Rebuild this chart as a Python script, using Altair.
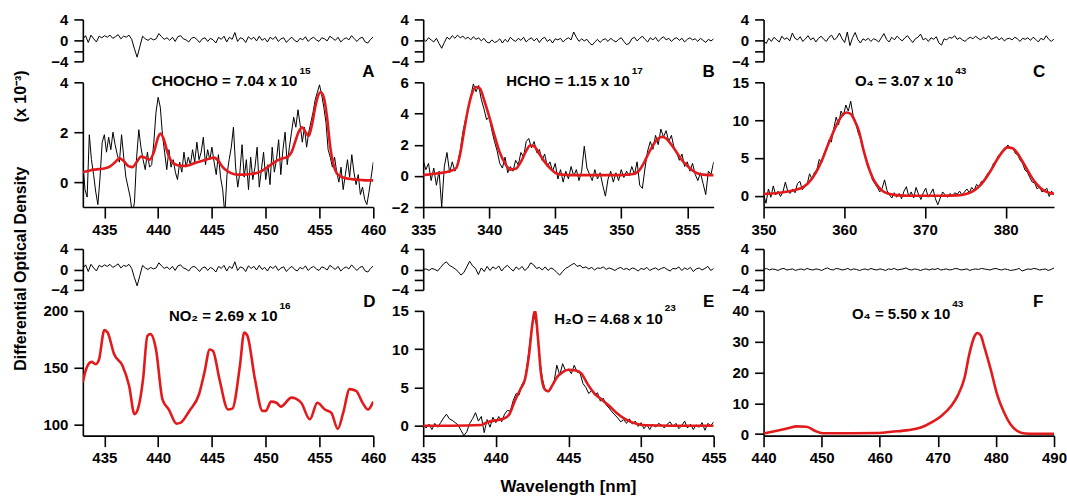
import altair as alt
import pandas as pd
import numpy as np

FONT = "Liberation Sans"
RED = "#e31a1c"
W = 291
H_RES = 42
H_MAIN = 125

# ---------------- data ----------------
# Panel A (CHOCHO) 433-460 nm
A_black = [0.8, -0.3, -0.6, 1.9, 0.9, 0.3, -0.4, -0.9, 0.2, 1.6, 1.9, 1.2, 1.8, 1.3, 2.0, 1.5, 1.1, 0.8, 1.9, 1.0,
           0.2, -0.2, -0.6, -1.3, -0.8, 1.0, 2.1, 1.4, 0.9, 0.5, 1.2, 0.6, 0.7, 1.6, 2.8, 3.4, 3.0, 1.9, 1.2, 0.5,
           1.3, 0.6, 0.9, 0.4, 0.1, 0.8, 0.4, 1.2, 0.6, 1.0, 0.7, 1.3, 0.8, 1.6, 0.9, 1.2, 1.8, 0.7, 1.3, 0.9,
           1.4, 0.8, 0.3, 1.1, 0.2, -0.3, -1.3, 0.3, 0.9, 1.4, 2.2, 0.6, -0.2, 0.4, 1.5, 0.2, 0.9, -0.3, 1.0, 0.1,
           0.6, 1.4, -0.2, 0.5, 1.2, 0.1, 0.7, -0.1, 1.4, 0.4, 0.9, 1.7, 0.3, 1.3, 2.0, 0.7, 1.4, 2.0, 2.6, 2.2,
           2.9, 2.3, 1.6, 2.2, 1.4, 2.0, 2.4, 2.8, 3.3, 3.6, 3.9, 3.5, 3.0, 2.4, 1.3, 1.0, 0.6, 1.0, 0.4, 0.0,
           0.6, -0.3, 0.3, 0.9, 0.2, 1.1, 0.4, -0.1, 0.3, -0.5, -0.2, -0.7, -0.9, -0.4, 0.2, 0.8]
A_red_x = [433, 433.5, 434, 434.5, 435, 435.5, 436, 436.4, 436.8, 437.2, 437.6, 438, 438.4, 438.8, 439.2, 439.6,
           440, 440.2, 440.5, 440.9, 441.3, 441.8, 442.3, 442.8, 443.3, 443.8, 444.3, 444.8, 445.2, 445.6, 446,
           446.5, 447, 447.5, 448, 448.5, 449, 449.5, 450, 450.5, 451, 451.5, 452, 452.4, 452.8, 453.1, 453.4,
           453.7, 454, 454.3, 454.6, 454.9, 455.1, 455.4, 455.7, 456, 456.3, 456.6, 457, 457.5, 458, 458.5, 459,
           459.5, 460]
A_red_y = [0.40, 0.45, 0.50, 0.52, 0.55, 0.62, 0.80, 0.95, 0.85, 0.65, 0.60, 0.80, 1.02, 0.98, 0.90, 1.20,
           1.80, 1.95, 1.75, 1.15, 0.80, 0.68, 0.65, 0.67, 0.75, 0.82, 0.88, 0.95, 0.98, 0.85, 0.60,
           0.42, 0.33, 0.30, 0.30, 0.32, 0.35, 0.42, 0.55, 0.70, 0.85, 0.95, 1.00, 1.20, 1.70, 2.05, 2.20,
           2.00, 1.85, 2.30, 3.00, 3.50, 3.60, 3.40, 2.60, 1.40, 0.70, 0.35, 0.22, 0.15, 0.12, 0.10, 0.08,
           0.07, 0.07]
A_resid = [0.2, 0.9, -0.4, 1.0, 0.3, -0.3, 0.8, 0.5, 0.9, 0.6, 1.0, 0.4, 0.7, 1.1, 0.3, 0.8, 0.6, 1.0, 0.2, -1.6,
           -3.2, -1.2, 0.8, 0.3, 0.0, 0.4, 0.1, 0.3, 1.3, 0.7, 0.2, 0.5, 0.0, 0.6, -0.2, 0.7, 0.9, 0.3, 0.1, -0.3,
           0.4, 0.6, 0.2, -0.4, 0.3, 0.5, -0.2, 0.4, 0.1, -0.5, 0.6, 0.2, 0.8, -0.3, 0.6, 0.2, 1.5, -0.2, 0.5, 0.3,
           -0.4, 0.7, 0.2, 0.6, -0.1, 0.8, 0.0, 0.4, -0.3, 0.6, 0.2, 0.7, -0.2, 0.3, 0.5, -0.4, 0.2, 0.6, 0.0, -0.3,
           0.4, 0.1, 0.7, -0.2, 0.3, 0.6, 0.1, -0.2, 0.5, 0.3, -0.1, 0.8, 0.4, 0.0, 0.6, -0.3, 0.2, 0.5, 0.1, 0.9,
           0.3, -0.2, 0.4, 0.6, -0.3, -0.5, 0.2, 0.7]

# Panel B (HCHO) 335-357 nm
B_black = [1.0, 0.4, 0.8, -0.3, 0.5, -0.6, 0.3, -2.0, 0.6, 1.5, 0.2, 0.9, 0.3, 0.8, 1.6, 2.8, 3.6, 4.3, 5.1, 5.9,
           5.4, 5.8, 4.9, 4.3, 3.6, 3.8, 2.9, 2.2, 1.6, 0.8, 0.5, 1.2, 0.2, 0.6, 0.3, 1.0, 0.7, 1.5, 1.2, 2.2,
           2.4, 1.8, 2.2, 1.5, 1.7, 1.0, 1.4, 0.6, 0.9, 0.3, 0.8, -0.2, 0.4, -0.4, 0.3, -0.2, 0.6, 0.0, 0.4, -0.3,
           0.3, 1.9, 0.5, 0.1, -0.3, 0.4, -0.2, 0.2, -0.6, -1.3, -0.2, 0.3, -0.4, 0.2, -0.3, 0.4, -0.1, 0.3, 0.0, 0.6,
           0.1, 0.9, -0.6, -0.8, 0.5, 1.6, 2.2, 1.7, 2.6, 2.0, 3.0, 2.5, 2.9, 2.2, 2.6, 1.8, 1.5, 1.0, 1.4, 0.6,
           0.9, 0.3, 0.8, 0.1, -0.3, 0.2, -0.5, -1.2, 0.3, 0.1, 0.9]
B_red_x = [335, 336, 337, 337.5, 337.8, 338.1, 338.4, 338.7, 339.0, 339.3, 339.6, 340.0, 340.4, 340.8, 341.2,
           341.6, 342.0, 342.4, 342.8, 343.1, 343.4, 343.8, 344.2, 344.6, 345.0, 345.5, 346, 347, 348, 349,
           350, 350.8, 351.3, 351.7, 352.1, 352.5, 352.8, 353.1, 353.4, 353.8, 354.2, 354.6, 355.0, 355.4,
           355.8, 356.2, 356.6, 357]
B_red_y = [0.05, 0.15, 0.3, 0.5, 1.4, 2.9, 4.3, 5.3, 5.7, 5.6, 4.9, 3.8, 2.6, 1.5, 0.8, 0.4, 0.45, 0.9, 1.6,
           1.95, 1.9, 1.4, 0.9, 0.5, 0.2, 0.08, 0.05, 0.05, 0.05, 0.05, 0.05, 0.1, 0.3, 0.8, 1.5, 2.1, 2.4,
           2.5, 2.4, 2.0, 1.5, 1.0, 0.65, 0.35, 0.15, 0.08, 0.05, 0.05]
B_resid = [0.3, -0.2, 0.5, 0.1, -0.3, 0.4, -0.6, -1.5, -0.4, 0.6, 0.2, 0.9, 0.4, 1.0, 0.5, 0.8, 0.3, 0.6, 0.1, 0.7,
           0.2, 0.5, -0.1, 0.4, -0.3, -0.5, 0.1, -0.4, -0.2, 0.3, -0.5, 0.2, -0.3, 0.6, 0.1, -0.2, 0.4, 0.0, 0.6, -0.3,
           0.2, 0.5, -0.1, 0.4, -0.4, 0.3, 0.6, -0.2, 0.2, -0.5, 0.3, 0.1, 0.4, -0.3, 0.2, 0.5, 0.1, 1.6, 0.6, -0.2,
           0.3, -0.1, 0.2, -0.5, -0.9, -0.3, 0.2, -0.4, 0.1, 0.3, -0.2, 0.4, 0.0, -0.3, 0.2, 0.5, -0.2, -0.8, -0.6, 0.3,
           0.6, -0.1, 0.4, 0.8, 0.2, -0.3, 0.5, 0.1, 0.6, -0.2, 0.3, 0.7, 0.1, 0.4, -0.2, 0.3, 0.5, 0.0, 0.4, -0.3,
           0.2, 0.5, 0.1, 0.3, -0.2, 0.4, 0.0, -0.4, 0.2, -0.1, 0.3]

# Panel C (O4) 350-386 nm
C_black = [0.2, -1.0, 0.9, -0.2, 1.3, 0.1, 0.6, -0.1, 0.5, 1.8, 0.6, 0.3, 0.9, 0.4, 1.6, 1.9, 0.8, 1.2, 1.5, 2.9,
           2.2, 3.1, 3.4, 4.8, 4.4, 5.6, 6.0, 7.4, 7.1, 8.9, 10.4, 9.4, 11.2, 10.6, 12.0, 11.2, 12.5, 10.6, 9.8, 8.4,
           7.6, 6.2, 5.1, 3.9, 3.2, 2.1, 1.6, 1.1, 0.5, 1.0, 2.1, 0.7, 0.1, -0.3, 0.4, -0.2, 0.3, -0.4, 0.6, 1.2,
           -0.1, 0.5, -0.3, 1.1, 0.2, -0.5, 0.4, 1.0, -0.2, 0.3, 0.9, -0.4, -1.2, -0.3, 0.5, 0.1, -0.2, 0.3, 0.0, 0.4,
           0.2, 0.6, 0.1, 0.5, 0.9, 0.4, 1.1, 0.7, 1.5, 1.2, 1.9, 1.8, 2.6, 3.1, 3.4, 4.3, 4.5, 5.3, 5.6, 6.1,
           6.4, 6.7, 6.2, 6.3, 5.6, 5.4, 4.7, 4.3, 3.4, 3.1, 2.4, 1.8, 1.7, 0.9, 1.2, 0.5, 0.7, 1.0, -0.1, 0.6, 0.2]
C_red_x = [350, 351, 352, 353, 354, 355, 355.8, 356.5, 357.2, 357.9, 358.6, 359.2, 359.8, 360.3, 360.8, 361.3,
           361.8, 362.4, 363.0, 363.6, 364.2, 364.8, 365.4, 366.0, 366.8, 368, 370, 372, 374, 375, 375.8, 376.6,
           377.4, 378.2, 379.0, 379.6, 380.2, 380.8, 381.4, 382.0, 382.6, 383.2, 383.8, 384.4, 385.0, 385.5, 386]
C_red_y = [0.25, 0.3, 0.4, 0.55, 0.8, 1.2, 2.0, 3.1, 4.6, 6.5, 8.3, 9.7, 10.7, 11.0, 10.8, 9.9, 8.6, 6.0, 3.8,
           2.2, 1.2, 0.6, 0.3, 0.15, 0.05, 0.0, 0.0, 0.0, 0.05, 0.2, 0.5, 1.1, 2.1, 3.4, 4.9, 5.8, 6.4, 6.3, 5.7,
           4.7, 3.6, 2.5, 1.6, 0.95, 0.55, 0.35, 0.25]
C_resid = [0.0, -0.6, 0.4, -0.2, 0.6, 0.1, -0.3, 0.8, 0.2, 0.5, -0.1, 1.4, 0.4, 0.1, 0.7, -0.2, 0.3, 0.9, 0.1, 0.5,
           -0.3, 0.4, 0.8, 0.2, -0.2, 0.6, 1.0, 0.1, 0.5, 1.4, 0.3, -0.4, 1.6, -1.0, 0.5, 1.5, 0.2, -0.5, 0.3, 0.0,
           0.4, -0.2, 0.3, 0.1, -0.3, 0.5, 1.3, 0.2, -0.3, 0.6, 0.1, 0.8, 0.3, -0.1, 0.5, 0.9, 0.2, -0.4, 0.3, 0.6,
           1.2, 0.1, 0.4, -0.2, 0.5, 0.2, 0.7, -0.5, -0.9, 0.3, 0.1, 0.6, 0.4, 0.9, 0.2, 0.5, 0.1, -0.2, 0.3, 0.6,
           0.3, 0.8, 0.4, 0.1, 0.6, 0.3, 0.9, 0.2, 0.4, 0.7, 0.1, 0.5, -0.1, 0.3, 0.4, 0.1, 0.6, 0.3, -0.2, 0.4,
           0.2, 0.5, 0.0, 0.6, 0.2, -0.3, 0.4, 0.1, 0.9, 0.2, -0.2, 0.3]

# Panel D (NO2) 433-460 nm
D_red_x = [433, 433.3, 433.8, 434.2, 434.5, 435.0, 435.3, 435.9, 436.7, 437.3, 437.8, 438.1, 438.6, 439.0, 439.3,
           439.8, 440.4, 441.0, 441.7, 442.1, 442.9, 443.8, 444.3, 444.8, 445.1, 445.7, 446.5, 446.9, 447.6, 448.0,
           448.3, 449.0, 449.7, 450.0, 450.5, 451.0, 451.4, 452.4, 452.8, 453.3, 454.1, 454.8, 455.5, 456.1, 456.7,
           457.2, 457.8, 458.4, 459.0, 459.5, 460.0]
D_red_y = [137, 148.5, 155, 153, 157, 183, 181, 162, 151.5, 134, 109, 113, 140, 178, 179.5, 166, 122, 113, 100.6,
           101.5, 111.8, 126.5, 145.6, 166, 164.7, 139.7, 113, 113.8, 151.5, 181, 178, 139.7, 111.8, 111.8, 120,
           119, 115.6, 123.5, 122.6, 119, 104.4, 119, 113, 110, 96, 110, 131, 129.4, 119, 113, 120]

# Panel E (H2O) 435-455 nm
E_black = [0.1, -0.3, 0.2, -0.5, 0.3, -0.2, 0.4, 1.0, 1.5, 0.9, 0.7, 0.4, 0.1, -0.6, -1.3, -0.8, 0.3, 0.9, 1.7, 0.6,
           1.2, -0.9, 0.8, -0.2, 1.1, 0.4, 1.2, 0.5, 1.5, 2.0, 1.9, 3.3, 4.2, 4.0, 5.4, 6.0, 8.6, 11.8, 14.6, 13.2,
           9.0, 6.2, 4.6, 4.4, 5.1, 5.6, 7.9, 6.6, 8.1, 7.2, 7.4, 6.8, 7.9, 7.0, 6.9, 5.5, 5.0, 4.2, 4.6, 4.0,
           4.3, 3.2, 3.6, 2.7, 2.3, 1.8, 1.4, 1.0, 0.5, 0.8, 0.3, 0.9, 0.2, 0.6, -0.1, 0.4, -0.4, 0.1, -0.5, 0.2,
           -0.2, 0.3, 0.1, -0.3, 0.2, 0.5, -0.1, 0.3, -0.4, 0.0, 0.6, -0.3, 0.2, -0.5, 0.1, -0.2, 0.4, -0.6, 0.3, 0.0,
           0.5]
E_red_x = [435, 437, 439, 439.4, 440.0, 440.5, 440.9, 441.3, 441.7, 442.0, 442.3, 442.5, 442.7, 442.9, 443.1,
           443.35, 443.6, 443.9, 444.2, 444.6, 445.0, 445.5, 445.9, 446.3, 446.8, 447.3, 447.8, 448.3, 448.8,
           449.3, 449.8, 450.4, 452, 455]
E_red_y = [0.0, 0.0, 0.1, 0.45, 0.7, 0.9, 1.4, 3.2, 4.8, 6.0, 9.5, 13.0, 15.0, 11.5, 7.0, 4.8, 4.5, 5.3, 6.3,
           7.0, 7.3, 7.2, 6.8, 5.5, 4.2, 3.4, 2.6, 1.7, 1.0, 0.5, 0.2, 0.05, 0.0, 0.0]
E_resid = [0.0, 0.1, -0.2, 0.2, 0.0, -0.3, 0.4, 1.1, 1.5, 0.8, 0.5, 0.1, -0.4, -1.1, -0.6, 0.5, 1.6, 0.7, 0.2, -1.0,
           0.3, -0.4, 0.6, -0.2, 0.5, 0.1, 0.7, -0.3, 0.4, 0.8, 0.2, -0.3, 0.5, 0.0, 0.6, -0.2, 0.3, 1.3, 0.9, 0.2,
           0.4, -0.1, 0.5, -0.2, 0.3, 0.0, -0.6, -1.1, -0.4, 0.2, 0.5, 0.9, 1.2, 0.6, 0.8, 0.3, 0.5, 0.1, 0.4, -0.1,
           0.3, 0.2, 0.5, 0.0, 0.3, 0.1, -0.2, 0.2, 0.4, 0.0, 0.2, -0.1, 0.3, 0.1, -0.3, 0.2, 0.0, 0.4, -0.2, 0.1,
           0.3, -0.1, 0.2, 0.4, 0.0, -0.3, 0.2, 0.1, 0.5, -0.2, 0.3, 0.0, 0.4, -0.4, 0.1, 0.3, -0.1, 0.2, 0.6, -0.2,
           0.2]

# Panel F (O4) 440-490 nm
F_red_x = [440, 442.3, 444.2, 445.7, 447.4, 448.8, 450.2, 455, 459.8, 462, 464.9, 467.2, 468.9, 470.6, 472.3,
           473.4, 474.6, 475.4, 476.3, 476.8, 477.4, 477.9, 479.1, 480.2, 481.4, 482.5, 483.6, 485.0, 487, 490]
F_red_y = [0.2, 1.1, 1.9, 2.5, 2.4, 1.1, 0.3, 0.3, 0.35, 0.75, 1.3, 2.2, 3.8, 5.9, 9.1, 12.4, 18.3, 25.8, 31.7,
           32.8, 32.0, 29.0, 21.0, 12.9, 7.0, 3.2, 1.1, 0.2, 0.1, 0.1]
F_resid = [0.0, 0.2, -0.1, 0.1, 0.0, -0.2, 0.1, 0.2, -0.1, 0.0, 0.1, -0.2, 0.0, 0.1, -0.1, 0.2, 0.0, -0.1, 0.1, 0.0,
           -0.2, 0.1, 0.3, 0.0, -0.1, 0.2, 0.1, -0.1, 0.0, 0.2, -0.1, 0.1, 0.0, -0.2, 0.0, 0.1, -0.1, 0.2, 0.0, -0.1,
           0.1, 0.0, -0.2, 0.1, 0.0, 0.2, -0.1, 0.0, 0.1, 0.3, 0.0, -0.1, 0.1, 0.0, -0.2, 0.0, 0.1, -0.1, 0.1, 0.0,
           0.2, -0.1, 0.0, 0.1, -0.1, 0.0, 0.2, 0.1, -0.1, 0.0, 0.1, -0.2, 0.0, 0.1, 0.0, 0.2, 0.1, 0.0, -0.1, 0.1,
           0.2, 0.0, -0.1, 0.1, 0.0, -0.2, -0.1, 0.0, 0.2, -0.3, -0.1, 0.1, 0.0, 0.2, 0.1, -0.1, 0.0, 0.1, -0.2, 0.0,
           0.3]

Y_TITLE = "Differential Optical Density" + "\u00a0" * 10 + "(x 10\u207b\u00b3)"
X_TITLE = "Wavelength [nm]"


def grid_df(xdom, vals):
    return pd.DataFrame({"x": np.linspace(xdom[0], xdom[1], len(vals)), "y": vals})


def xy_df(xs, ys):
    return pd.DataFrame({"x": xs, "y": ys})


def text_layer(txt, x, y, size, align="center"):
    return alt.Chart(pd.DataFrame({"t": [txt]})).mark_text(
        align=align, baseline="middle", font=FONT, fontSize=size, fontWeight="bold", color="black"
    ).encode(x=alt.value(x), y=alt.value(y), text="t:N")


def residual(xdom, vals, height, yrange=None):
    sc = alt.Scale(domain=[-4, 4], nice=False, zero=False)
    if yrange is not None:
        sc = alt.Scale(domain=[-4, 4], nice=False, zero=False, range=yrange)
    return alt.Chart(grid_df(xdom, vals)).mark_line(color="black", strokeWidth=1, clip=True).encode(
        x=alt.X("x:Q", scale=alt.Scale(domain=xdom, nice=False, zero=False), axis=None),
        y=alt.Y("y:Q", scale=sc, axis=alt.Axis(values=[-4, -2, 0, 4], tickSize=9, labelPadding=6, title=None,
                                               labelExpr="datum.value == -2 ? '' : datum.label")),
    ).properties(width=W, height=height)


def main(xdom, ydom, xticks, yticks, black, red, ann, letter, yax=None, xax=None):
    yax = yax or {}
    xax = xax or {}
    xaxis = alt.Axis(values=xticks, tickSize=11, labelPadding=4, **({"title": None} | xax))
    yaxis = alt.Axis(values=yticks, tickSize=9, labelPadding=6, **({"title": None} | yax))
    xs = alt.X("x:Q", scale=alt.Scale(domain=xdom, nice=False, zero=False), axis=xaxis)
    ys = alt.Y("y:Q", scale=alt.Scale(domain=ydom, nice=False, zero=False), axis=yaxis)
    layers = []
    if black is not None:
        layers.append(alt.Chart(black).mark_line(color="black", strokeWidth=1, clip=True).encode(x=xs, y=ys))
    layers.append(alt.Chart(red).mark_line(color=RED, strokeWidth=2.6, clip=True, interpolate="monotone")
                  .encode(x=xs, y=ys))
    main_txt, xe, ty, sup, sy = ann
    layers.append(text_layer(main_txt, xe, ty, 15, "right"))
    layers.append(text_layer(sup, xe + 2, sy, 10, "left"))
    lt, lx, ly = letter
    layers.append(text_layer(lt, lx, ly, 17))
    return alt.layer(*layers).properties(width=W, height=H_MAIN)


resA = residual([433, 460], A_resid, H_RES)
resB = residual([335, 357], B_resid, H_RES)
resC = residual([350, 386], C_resid, H_RES)
mainA = main([433, 460], [-1, 4], [435, 440, 445, 450, 455, 460], [0, 2, 4],
             grid_df([433, 460], A_black), xy_df(A_red_x, A_red_y),
             ("CHOCHO = 7.04 x 10", 215, -1, "15", -11), ("A", 286, -10),
             yax=dict(title=Y_TITLE, titleX=-62, titleY=138, titleAngle=270, titleAlign="center",
                      titleBaseline="middle"))
mainB = main([335, 357], [-2, 6], [335, 340, 345, 350, 355], [-2, 0, 2, 4, 6],
             grid_df([335, 357], B_black), xy_df(B_red_x, B_red_y),
             ("HCHO = 1.15 x 10", 207, -1, "17", -11), ("B", 286, -10))
mainC = main([350, 386], [-1.5, 15], [350, 360, 370, 380], [0, 5, 10, 15],
             grid_df([350, 386], C_black), xy_df(C_red_x, C_red_y),
             ("O\u2084 = 3.07 x 10", 190, -1, "43", -11), ("C", 276, -10))

resD = residual([433, 460], A_resid, 62, yrange=[62, 21])
resE = residual([435, 455], E_resid, 62, yrange=[62, 21])
resF = residual([440, 490], F_resid, 62, yrange=[62, 21])
mainD = main([433, 460], [90, 200], [435, 440, 445, 450, 455, 460], [100, 150, 200],
             None, xy_df(D_red_x, D_red_y),
             ("NO\u2082 = 2.69 x 10", 195, 5, "16", -5), ("D", 287, -9))
mainE = main([435, 455], [-1.3, 15], [435, 440, 445, 450, 455], [0, 5, 10, 15],
             grid_df([435, 455], E_black), xy_df(E_red_x, E_red_y),
             ("H\u2082O = 4.68 x 10", 240, 8, "23", -3), ("E", 286, -9),
             xax=dict(title=X_TITLE, titleX=145, titleY=51, titleBaseline="middle", titleFontSize=17))
mainF = main([440, 490], [-0.5, 40], [440, 450, 460, 470, 480, 490], [0, 10, 20, 30, 40],
             None, xy_df(F_red_x, F_red_y),
             ("O\u2084 = 5.50 x 10", 187, 3, "43", -7), ("F", 275, -9))

chart = alt.concat(
    resA, resB, resC, mainA, mainB, mainC, resD, resE, resF, mainD, mainE, mainF,
    columns=3, spacing=alt.RowColnumber(row=21, column=50), bounds="flush", align="each",
).properties(
    padding={"left": 12, "top": 12, "right": 0, "bottom": 0}
).configure_view(stroke=None).configure_axis(
    domainColor="black", domainWidth=1.6, tickColor="black", tickWidth=1.6,
    labelFont=FONT, labelFontSize=15, labelFontWeight="bold", labelColor="black",
    labelFlush=False, labelOverlap=False, grid=False,
    titleFont=FONT, titleFontSize=16, titleFontWeight="bold", titleColor="black",
)

chart.save("out.html", embed_options={"renderer": "svg", "actions": False})
